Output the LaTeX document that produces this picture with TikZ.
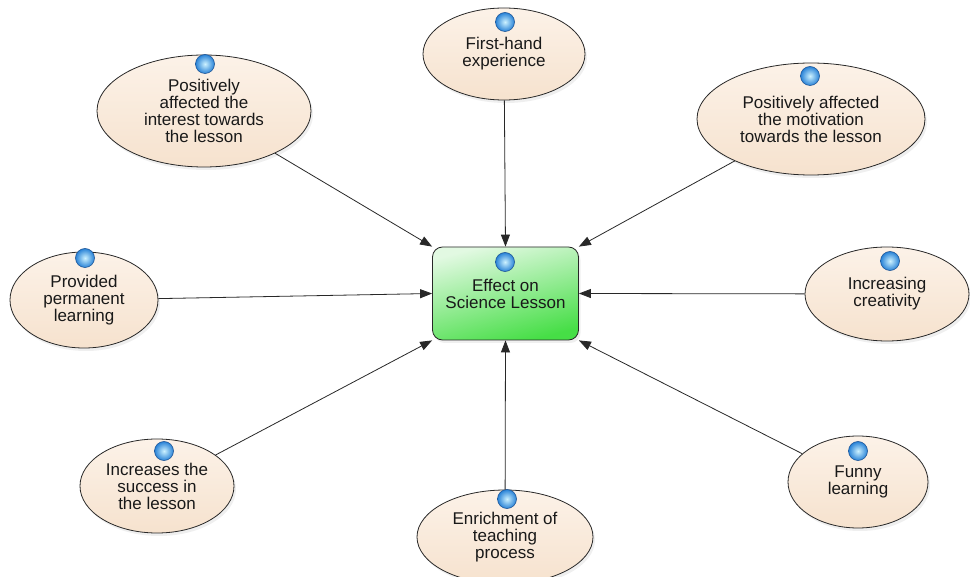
\documentclass[tikz,border=0pt]{standalone}
\usepackage{fontspec}
\setmainfont{Liberation Sans}
\usetikzlibrary{shapes.geometric,arrows.meta,shadows}
\definecolor{peachtop}{RGB}{252,242,232}
\definecolor{peachbot}{RGB}{246,226,206}
\definecolor{greentop}{RGB}{226,249,226}
\definecolor{greenbot}{RGB}{70,222,70}
\definecolor{edgec}{RGB}{40,40,40}
\definecolor{txt}{RGB}{25,25,25}
\definecolor{ballin}{RGB}{205,242,255}
\definecolor{ballout}{RGB}{40,130,215}
\definecolor{ballrim}{RGB}{30,85,150}
\begin{document}
\begin{tikzpicture}[x=1pt,y=-1pt,
  idea/.style={ellipse, draw=edgec, line width=0.8pt, top color=peachtop, bottom color=peachbot,
    align=center, font=\fontsize{17}{17}\selectfont, text=txt, inner sep=0pt,
    drop shadow={opacity=0.12, shadow xshift=2pt, shadow yshift=-3pt}},
  centerbox/.style={rectangle, rounded corners=10pt, draw=edgec, line width=0.8pt,
    top color=greentop, bottom color=greenbot, shading angle=15,
    align=center, font=\fontsize{17}{17}\selectfont, text=txt, inner sep=0pt,
    minimum width=146pt, minimum height=93pt,
    drop shadow={opacity=0.12, shadow xshift=2pt, shadow yshift=-3pt}},
  ballnode/.style={circle, minimum size=19pt, inner sep=0pt, draw=ballrim, line width=0.6pt,
    inner color=ballin, outer color=ballout},
  conn/.style={draw=edgec, line width=0.8pt, -{Triangle[length=12pt,width=9pt]}}
]
\useasboundingbox (0,0) rectangle (970,577);
\fill[white] (0,0) rectangle (970,577);

\node[centerbox] (box) at (505.5,293.5) {Effect on\\Science Lesson};

\node[idea, minimum width=214pt, minimum height=112pt] (e1) at (204,111)
  {Positively\\affected the\\interest towards\\the lesson};
\node[idea, minimum width=162pt, minimum height=92pt] (e2) at (504,54)
  {First-hand\\experience};
\node[idea, minimum width=228pt, minimum height=112pt] (e3) at (811,119)
  {Positively affected\\the motivation\\towards the lesson};
\node[idea, minimum width=148pt, minimum height=96pt] (e4) at (84,300)
  {Provided\\permanent\\learning};
\node[idea, minimum width=164pt, minimum height=94pt] (e5) at (887,294)
  {Increasing\\creativity};
\node[idea, minimum width=154pt, minimum height=94pt] (e6) at (157,486)
  {Increases the\\success in\\the lesson};
\node[idea, minimum width=176pt, minimum height=94pt] (e7) at (505,537)
  {Enrichment of\\teaching\\process};
\node[idea, minimum width=140pt, minimum height=92pt] (e8) at (858,482)
  {Funny\\learning};

\node[ballnode] (b0) at (505,262) {};
\node[ballnode] (b1) at (205,64) {};
\node[ballnode] (b2) at (505,22) {};
\node[ballnode] (b3) at (810,76) {};
\node[ballnode] (b4) at (85,258) {};
\node[ballnode] (b5) at (890,261) {};
\node[ballnode] (b6) at (164,451) {};
\node[ballnode] (b7) at (507,499) {};
\node[ballnode] (b8) at (858,451) {};

\draw[conn] (e1) -- (box.north west);
\draw[conn] (e2) -- (box.north);
\draw[conn] (e3) -- (box.north east);
\draw[conn] (e4) -- (box.west);
\draw[conn] (e5) -- (box.east);
\draw[conn] (e6) -- (box.south west);
\draw[conn] (e7) -- (box.south);
\draw[conn] (e8) -- (box.south east);
\end{tikzpicture}
\end{document}
